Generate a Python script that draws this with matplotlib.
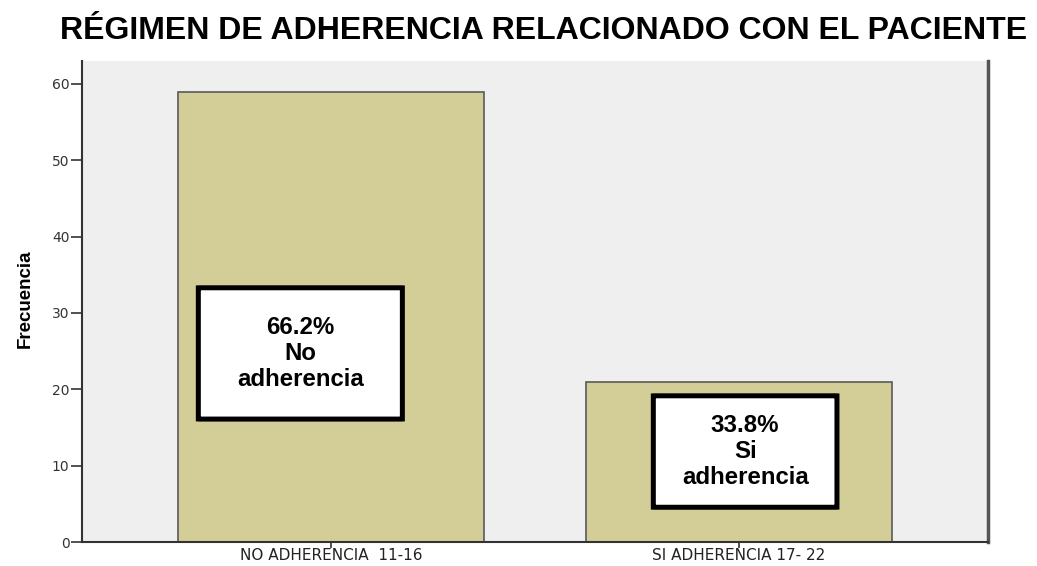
import matplotlib
matplotlib.use("Agg")
from matplotlib import pyplot as plt
from matplotlib.patches import FancyBboxPatch

# data
categorias = ["NO ADHERENCIA  11-16", "SI ADHERENCIA 17- 22"]
frecuencia = [59, 21]
porcentajes = ["66.2%", "33.8%"]
etiquetas = ["No\nadherencia", "Si\nadherencia"]

# label boxes: (x centre, y centre, width, height) in data units
cajas = [(-0.075, 24.7, 0.50, 17.2), (1.015, 11.85, 0.45, 14.6)]

fig = plt.figure(figsize=(10.37, 5.66), dpi=100)
ax = fig.add_axes([0.0791, 0.0424, 0.8736, 0.8498])
ax.set_facecolor("#efefef")

x = list(range(len(categorias)))
ax.bar(x, frecuencia, width=0.75, color="#d3ce98", edgecolor="#5a5a5a",
       linewidth=1.2, zorder=2)

ax.set_xlim(-0.61, 1.61)
ax.set_ylim(0, 63)
ax.set_yticks([0, 10, 20, 30, 40, 50, 60])
ax.set_xticks(x)
ax.set_xticklabels(categorias, fontsize=11, color="#222222",
                   family="DejaVu Sans")
for t in ax.get_yticklabels():
    t.set_fontsize(10)
    t.set_color("#333333")
    t.set_family("DejaVu Sans")
ax.tick_params(axis="y", length=8, width=1.2, color="#333333", pad=1)
ax.tick_params(axis="x", length=4, width=1.2, color="#333333", pad=0.5)

ax.spines["top"].set_visible(False)
ax.spines["left"].set_color("#333333")
ax.spines["left"].set_linewidth(1.5)
ax.spines["bottom"].set_color("#333333")
ax.spines["bottom"].set_linewidth(1.5)
ax.spines["right"].set_color("#555555")
ax.spines["right"].set_linewidth(2.5)

ax.set_ylabel("Frecuencia", fontsize=13.5, fontweight="bold",
              family="Liberation Sans")
ax.yaxis.set_label_coords(-0.053, 0.505)

for (cx, cy, w, h), p, e in zip(cajas, porcentajes, etiquetas):
    ax.add_patch(FancyBboxPatch((cx - w / 2, cy - h / 2), w, h,
                                boxstyle="round,pad=0,rounding_size=0.008",
                                facecolor="white", edgecolor="black",
                                linewidth=3.6, zorder=3))
    ax.text(cx, cy, p + "\n" + e, ha="center", va="center", fontsize=17.3,
            fontweight="bold", family="Liberation Sans", linespacing=1.15,
            zorder=4)

fig.text(0.5245, 0.931, "RÉGIMEN DE ADHERENCIA RELACIONADO CON EL PACIENTE",
         ha="center", va="baseline", fontsize=23, fontweight="bold",
         family="Liberation Sans")

fig.savefig("out.png", dpi=100)
